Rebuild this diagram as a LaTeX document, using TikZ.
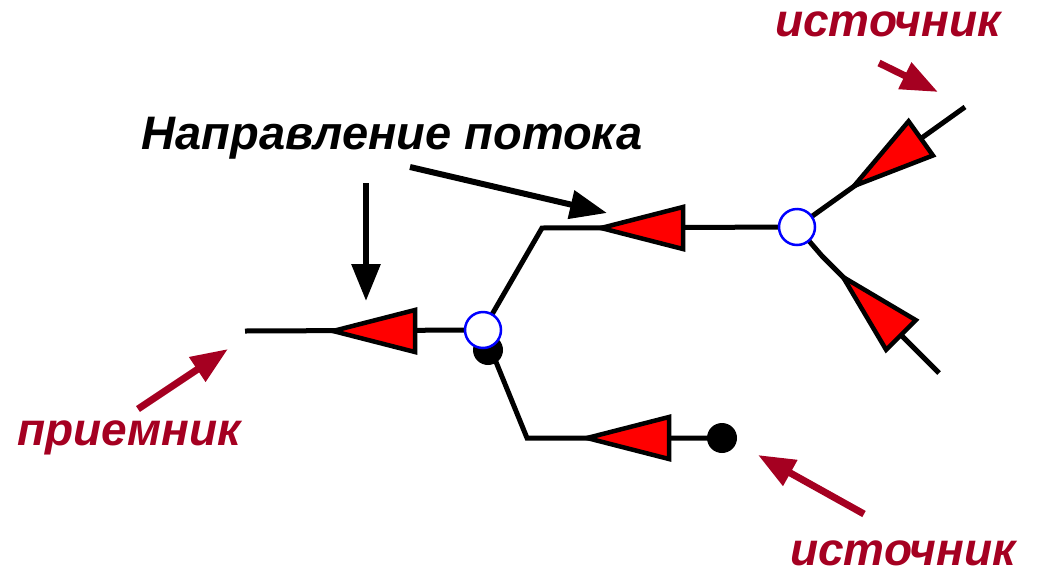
\documentclass[tikz,border=0pt]{standalone}
\usepackage{fontspec}
\setmainfont{Liberation Sans}
\usetikzlibrary{arrows.meta}
\definecolor{srcred}{RGB}{165,0,33}
\definecolor{ringblue}{RGB}{0,0,255}
\newcommand{\valve}[2]{\draw[valve,shift={(#1)},rotate=#2] (0,0) -- (82,21) -- (82,-21) -- cycle;}

\begin{document}
\begin{tikzpicture}[x=1pt,y=-1pt,
		pipe/.style={line width=5pt},
		valve/.style={draw=black,line width=4.5pt,fill=red},
		junc/.style={circle,draw=ringblue,line width=2.5pt,fill=white,minimum size=36pt,inner sep=0pt},
		blob/.style={circle,fill=black,minimum size=30pt,inner sep=0pt},
		flow/.style={-{Triangle[length=37pt,width=28pt]},line width=6pt},
		hint/.style={-{Triangle[length=37pt,width=28pt]},line width=7pt,draw=srcred},
		lbl/.style={font=\fontsize{46}{54}\selectfont\bfseries\itshape,text=srcred,inner sep=0pt,anchor=base}]
	\useasboundingbox (0,0) rectangle (1042,574);
	% network points
	\coordinate (sink) at (245,331);
	\coordinate (j1) at (483,330);
	\coordinate (bendup) at (542,228);
	\coordinate (j2) at (797,227);
	\coordinate (bendlo) at (527,438);
	\coordinate (src) at (722,438);
	\coordinate (endur) at (965,107);
	\coordinate (bendlr) at (822,256);
	\coordinate (endlr) at (939,373);
	% pipes
	\draw[pipe] (sink) -- (j1) -- (bendup) -- (j2);
	\draw[pipe] (j1) -- (bendlo) -- (src);
	\draw[pipe] (j2) -- (endur);
	\draw[pipe] (j2) -- (bendlr) -- (endlr);
	% valves
	\coordinate (v1) at (333,331);
	\coordinate (v2) at (601,228);
	\coordinate (v3) at (587,438);
	\coordinate (v4) at (854,186);
	\coordinate (v5) at (843,277);
	\valve{v1}{0}
	\valve{v2}{0}
	\valve{v3}{0}
	\valve{v4}{35.5}
	\valve{v5}{-45}
	% junctions
	\node[blob] (srcdot) at (src) {};
	\node[blob] (jdot) at (488,350) {};
	\node[junc] (ring1) at (j1) {};
	\node[junc] (ring2) at (j2) {};
	% labels
	\node[lbl,text=black,font=\fontsize{47}{56}\selectfont\bfseries\itshape] (flowlbl) at (392,149) {Направление потока};
	\node[lbl] (srctop) at (888,36) {источник};
	\node[lbl] (sinklbl) at (129,445) {приемник};
	\node[lbl] (srcbot) at (903,565) {источник};
	% pointers
	\coordinate (fa) at (366,183);
	\coordinate (fb) at (366,301);
	\coordinate (fc) at (410,167);
	\coordinate (fd) at (607,213);
	\draw[flow] (fa) -- (fb);
	\draw[flow] (fc) -- (fd);
	\coordinate (ha) at (138,409);
	\coordinate (hb) at (228,349);
	\coordinate (hc) at (864,514);
	\coordinate (hd) at (758,455);
	\coordinate (he) at (879,63);
	\coordinate (hf) at (938,92);
	\draw[hint] (ha) -- (hb);
	\draw[hint] (hc) -- (hd);
	\draw[hint] (he) -- (hf);
\end{tikzpicture}
\end{document}
